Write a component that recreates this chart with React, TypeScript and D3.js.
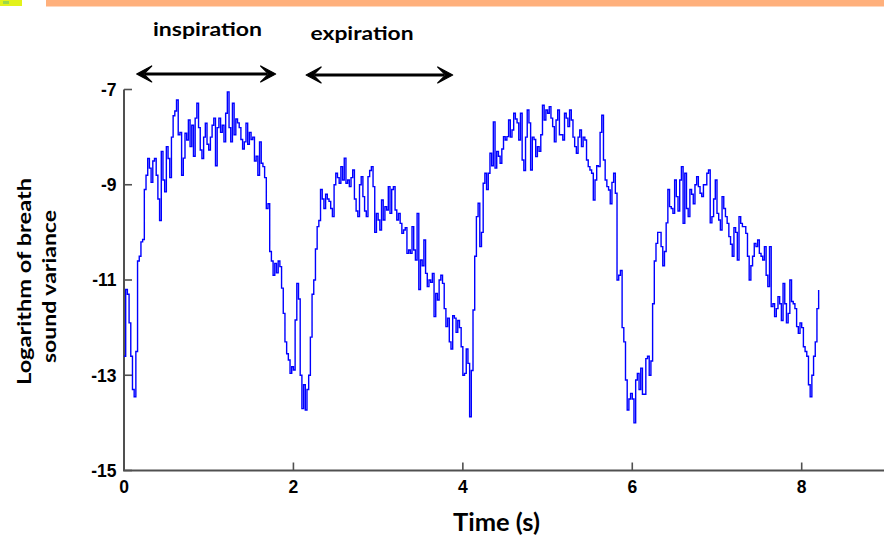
import React from "react";
import * as d3 from "d3";

const SAMPLE_PERIOD_S = 0.02;
const logVariance: number[] = [
  -12.6, -11.2, -11.3, -11.9, -12.6, -13.3, -13.45, -12.5, -10.6, -10.5,
  -10.2, -10.15, -9.1, -8.8, -8.45, -8.65, -8.95, -8.5, -8.45, -8.8,
  -9.3, -9.75, -8.3, -8.9, -9.15, -8.2, -8.45, -8.85, -8.0, -7.55,
  -7.45, -7.22, -7.95, -7.9, -8.8, -8.44, -7.92, -8.06, -7.64, -8.2,
  -7.75, -8.4, -7.6, -7.29, -7.8, -8.27, -8.45, -8.0, -7.71, -8.15,
  -8.27, -8.0, -7.75, -7.6, -8.6, -7.8, -7.6, -7.9, -7.75, -8.1,
  -7.5, -7.05, -7.8, -8.1, -7.29, -7.95, -7.62, -7.7, -7.8, -8.05,
  -8.25, -8.1, -7.71, -8.15, -7.9, -8.05, -8.0, -8.5, -8.4, -8.8,
  -8.1, -8.55, -8.62, -8.85, -9.5, -9.4, -10.4, -10.6, -10.9, -10.65,
  -10.85, -10.6, -10.72, -11.17, -11.7, -12.3, -12.55, -12.68, -12.96, -12.82,
  -12.89, -11.84, -11.07, -11.4, -13.0, -13.7, -13.2, -13.73, -13.3, -13.0,
  -12.2, -11.3, -11.0, -10.35, -9.88, -9.75, -9.1, -9.3, -9.5, -9.2,
  -9.3, -9.35, -9.5, -9.67, -9.0, -8.76, -8.85, -8.97, -8.62, -8.9,
  -8.44, -8.97, -8.9, -9.04, -8.85, -8.69, -9.3, -9.55, -9.67, -9.0,
  -8.83, -9.25, -9.55, -9.67, -8.83, -8.7, -8.62, -9.04, -10.0, -9.6,
  -9.74, -9.95, -9.32, -9.74, -9.46, -9.53, -9.04, -9.6, -9.1, -9.04,
  -9.53, -9.74, -9.6, -9.81, -10.02, -9.95, -9.9, -10.44, -10.37, -10.44,
  -9.88, -10.37, -10.58, -9.6, -11.2, -10.58, -10.7, -10.16, -10.86, -11.14,
  -11.0, -11.05, -10.86, -11.77, -11.28, -11.42, -11.0, -10.9, -11.07, -11.6,
  -11.98, -11.8, -12.3, -12.45, -11.75, -11.8, -12.1, -11.85, -12.0, -12.4,
  -13.0, -12.96, -12.45, -12.75, -13.87, -12.9, -11.63, -10.5, -9.67, -9.39,
  -10.3, -10.0, -8.97, -8.76, -9.1, -8.76, -8.34, -8.6, -7.68, -8.65,
  -8.3, -8.4, -8.55, -8.25, -7.99, -8.06, -7.99, -7.64, -8.0, -7.85,
  -7.5, -7.62, -7.7, -8.06, -7.5, -8.48, -8.7, -8.0, -7.43, -7.7,
  -8.69, -8.0, -8.05, -8.41, -8.2, -8.3, -7.95, -7.33, -7.64, -7.43,
  -7.5, -7.36, -7.6, -7.78, -8.1, -7.64, -7.43, -7.95, -7.95, -8.06,
  -7.5, -7.6, -7.78, -7.43, -7.64, -8.0, -8.2, -8.34, -8.0, -7.85,
  -8.2, -8.0, -8.06, -8.48, -8.62, -8.69, -8.76, -9.32, -8.9, -8.6,
  -8.62, -7.9, -7.54, -8.48, -8.9, -9.04, -9.11, -9.4, -8.95, -8.76,
  -9.18, -11.0, -10.9, -10.8, -12.0, -12.3, -13.1, -13.73, -13.5, -13.38,
  -13.5, -14.0, -13.1, -12.96, -13.3, -12.85, -13.4, -13.4, -12.65, -12.6,
  -13.0, -12.7, -11.5, -10.6, -10.23, -10.0, -10.0, -10.3, -10.7, -10.4,
  -9.8, -9.1, -9.46, -9.5, -9.6, -8.9, -9.25, -9.55, -8.9, -8.62,
  -9.81, -8.76, -9.5, -9.67, -9.1, -9.2, -9.4, -9.0, -8.83, -9.04,
  -9.18, -9.25, -9.0, -9.0, -8.76, -8.69, -9.8, -9.67, -9.3, -8.9,
  -9.6, -9.74, -9.95, -9.25, -9.5, -9.67, -9.81, -10.09, -10.25, -10.5,
  -9.9, -10.0, -10.58, -9.67, -9.81, -9.88, -9.88, -10.02, -10.5, -11.0,
  -10.7, -10.5, -10.23, -10.3, -10.16, -10.44, -10.5, -10.58, -10.3, -10.9,
  -11.14, -10.3, -11.56, -11.5, -11.77, -11.6, -11.35, -11.5, -11.85, -11.07,
  -11.5, -11.9, -11.7, -11.0, -11.45, -11.5, -11.6, -11.98, -12.12, -11.9,
  -12.0, -12.4, -12.5, -12.6, -13.2, -13.45, -13.0, -12.6, -12.3, -11.6,
  -11.21,
];

const xTicks = [0, 2, 4, 6, 8];
const yTicks = [-15, -13, -11, -9, -7];

const phaseLabels = ["inspiration", "expiration"];
const phaseStart = [0.15, 2.15];
const phaseEnd = [1.79, 3.88];
const phaseLabelCenter = [0.986, 2.81];

const W = 884;
const H = 535;

function arrowHead(tipX: number, y: number, dir: number) {
  const len = 15;
  const half = 8;
  const notch = 7;
  return `M${tipX},${y} L${tipX + dir * len},${y - half} L${tipX + dir * notch},${y} L${tipX + dir * len},${y + half} Z`;
}

export default function App() {
  const x = d3.scaleLinear().domain([0, 8]).range([124, 801.7]);
  const y = d3.scaleLinear().domain([-15, -7]).range([470.5, 89.5]);

  const line = d3
    .line<number>()
    .x((_, i) => x(i * SAMPLE_PERIOD_S))
    .y((d) => y(d))
    .curve(d3.curveStepAfter);

  const axisColor = "#505050";
  const tickFont = "'Liberation Sans', Arial, sans-serif";
  const labelFont = "Lato, 'Open Sans', sans-serif";
  const arrowY = [74, 75];
  const labelY = [36, 40];
  const labelLen = [109, 103];

  return (
    <svg
      width={W}
      height={H}
      viewBox={`0 0 ${W} ${H}`}
      style={{ position: "absolute", left: 0, top: 0, background: "#fff" }}
    >
      <rect x={0} y={0} width={W} height={H} fill="#fff" />
      {/* decorative top band */}
      <rect x={46} y={0} width={W - 46} height={6.5} fill="#FFB07C" />
      <rect x={0} y={0} width={22} height={6} fill="#E3F21A" />
      <rect x={3} y={1} width={6} height={3} fill="#9CD84A" />

      {/* phase arrows and labels */}
      {phaseLabels.map((lab, k) => {
        const x0 = x(phaseStart[k]);
        const x1 = x(phaseEnd[k]);
        const ay = arrowY[k];
        return (
          <g key={lab}>
            <line x1={x0 + 8} x2={x1 - 8} y1={ay} y2={ay} stroke="#000" strokeWidth={3} />
            <path d={arrowHead(x0, ay, 1)} fill="#000" stroke="#000" strokeWidth={1.2} strokeLinejoin="round" />
            <path d={arrowHead(x1, ay, -1)} fill="#000" stroke="#000" strokeWidth={1.2} strokeLinejoin="round" />
            <text
              x={x(phaseLabelCenter[k])}
              y={labelY[k]}
              textAnchor="middle"
              fontFamily={labelFont}
              fontWeight="bold"
              fontSize={19}
              textLength={labelLen[k]}
              lengthAdjust="spacingAndGlyphs"
              fill="#000"
            >
              {lab}
            </text>
          </g>
        );
      })}

      {/* axes */}
      <line x1={x(0)} x2={x(0)} y1={y(-7)} y2={y(-15)} stroke={axisColor} strokeWidth={2} />
      <line x1={x(0) - 1} x2={W} y1={y(-15)} y2={y(-15)} stroke={axisColor} strokeWidth={2} />
      {yTicks.map((t) => (
        <g key={`y${t}`}>
          <line x1={x(0)} x2={x(0) + 8} y1={y(t)} y2={y(t)} stroke={axisColor} strokeWidth={1.6} />
          <text
            x={116.5}
            y={y(t)}
            dy="0.36em"
            textAnchor="end"
            fontFamily={tickFont}
            fontWeight="bold"
            fontSize={17.5}
            fill="#000"
          >
            {t}
          </text>
        </g>
      ))}
      {xTicks.map((t) => (
        <g key={`x${t}`}>
          <line x1={x(t)} x2={x(t)} y1={y(-15)} y2={y(-15) - 8} stroke={axisColor} strokeWidth={1.6} />
          <text
            x={x(t)}
            y={493}
            textAnchor="middle"
            fontFamily={tickFont}
            fontWeight="bold"
            fontSize={17.5}
            fill="#000"
          >
            {t}
          </text>
        </g>
      ))}

      {/* data */}
      <path d={line(logVariance) || ""} fill="none" stroke="#0000FF" strokeWidth={1.4} />

      {/* axis titles */}
      <text
        x={496.5}
        y={531}
        textAnchor="middle"
        fontFamily={labelFont}
        fontWeight="bold"
        fontSize={24}
        textLength={87}
        lengthAdjust="spacingAndGlyphs"
        fill="#000"
      >
        Time (s)
      </text>
      <g transform="translate(31,281.5) rotate(-90)">
        <text
          x={0}
          y={0}
          textAnchor="middle"
          fontFamily={labelFont}
          fontWeight="bold"
          fontSize={18}
          textLength={207}
          lengthAdjust="spacingAndGlyphs"
          fill="#000"
        >
          Logarithm of breath
        </text>
      </g>
      <g transform="translate(56,286.5) rotate(-90)">
        <text
          x={0}
          y={0}
          textAnchor="middle"
          fontFamily={labelFont}
          fontWeight="bold"
          fontSize={18}
          textLength={153}
          lengthAdjust="spacingAndGlyphs"
          fill="#000"
        >
          sound variance
        </text>
      </g>
    </svg>
  );
}
